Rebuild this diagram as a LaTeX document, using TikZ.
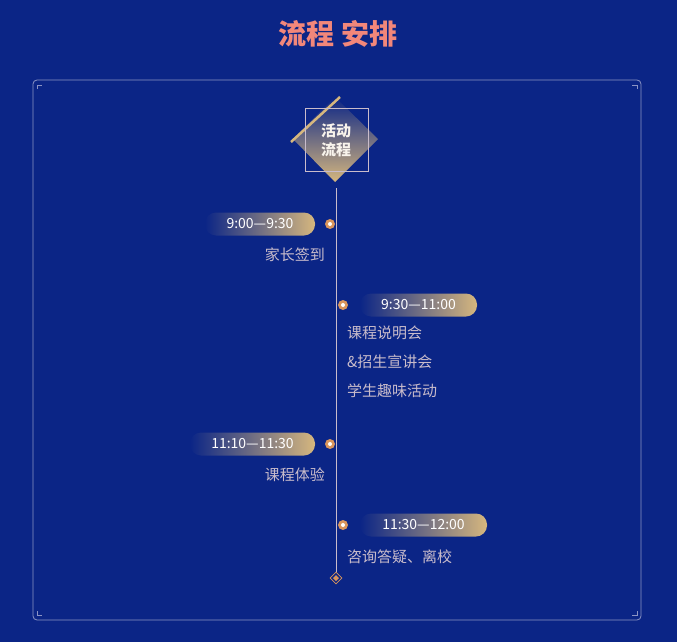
\documentclass[tikz,border=0pt]{standalone}
\usepackage{fontspec}
\setmainfont{Noto Sans CJK SC}
\usetikzlibrary{shapes.geometric}
\definecolor{bg}{HTML}{0B2586}
\definecolor{gold}{HTML}{D6B77E}
\definecolor{dotc}{HTML}{D9955C}
\definecolor{lbl}{HTML}{C9BCCB}
\definecolor{frame}{HTML}{8C94C4}
\definecolor{ttl}{HTML}{F2877A}
\tikzset{
  pill/.style={rounded corners=11pt, minimum height=23pt, inner sep=0pt, text=white, font=\fontsize{14}{14}\selectfont},
  dotn/.style={circle, fill=dotc, minimum size=10pt, inner sep=0pt},
  lab/.style={text=lbl, font=\fontsize{15}{29}\selectfont, inner sep=0pt},
}
\begin{document}
\begin{tikzpicture}[x=1pt,y=-1pt]
\fill[bg] (0,0) rectangle (677,642);
\useasboundingbox (0,0) rectangle (677,642);
\node[text=ttl, font=\bfseries\fontsize{28}{28}\selectfont] (title) at (338,34) {流程 安排};
\draw[frame, rounded corners=4pt, line width=0.8pt] (33,80) rectangle (641,620);
\draw[frame, line width=0.8pt] (37,89) -- (37,85) -- (42,85);
\draw[frame, line width=0.8pt] (637,89) -- (637,85) -- (632,85);
\draw[frame, line width=0.8pt] (37,611) -- (37,615) -- (42,615);
\draw[frame, line width=0.8pt] (637,611) -- (637,615) -- (632,615);
% header diamond
\shade[left color=bg, right color=gold, shading angle=0] (335,97) -- (378,139) -- (335,182) -- (293,139) -- cycle;
\draw[gold, line width=2.5pt] (291,142) -- (340,97);
\draw[lbl, line width=0.6pt] (305,108) rectangle (368,171);
\node[text=white!85!gold, font=\bfseries\fontsize{15}{19}\selectfont, align=center] (head) at (336,140) {活动\\流程};
\coordinate (top) at (336,188);
\node[diamond, draw=dotc, line width=0.8pt, minimum size=12pt, inner sep=0pt] (end) at (336,578) {};
\fill[dotc] (end.center) +(-3,0) -- +(0,-3) -- +(3,0) -- +(0,3) -- cycle;
\draw[lbl, line width=0.8pt] (top) -- (end.north);
% event 1
\node[dotn] (d1) at (330,224) {}; \fill[white] (d1) circle (2);
\node[pill, minimum width=110pt, left color=bg, right color=gold] (p1) at (260,224) {9:00—9:30};
\node[lab, anchor=east] (l1) at (325,255) {家长签到};
% event 2
\node[dotn] (d2) at (343,305) {}; \fill[white] (d2) circle (2);
\node[pill, minimum width=117pt, left color=bg, right color=gold] (p2) at (418.5,305) {9:30—11:00};
\node[lab, anchor=north west, align=left] (l2) at (347,326) {课程说明会\\\&招生宣讲会\\学生趣味活动};
% event 3
\node[dotn] (d3) at (330,444) {}; \fill[white] (d3) circle (2);
\node[pill, minimum width=125pt, left color=bg, right color=gold] (p3) at (252.5,444) {11:10—11:30};
\node[lab, anchor=east] (l3) at (325,475) {课程体验};
% event 4
\node[dotn] (d4) at (343,525) {}; \fill[white] (d4) circle (2);
\node[pill, minimum width=127pt, left color=bg, right color=gold] (p4) at (423.5,525) {11:30—12:00};
\node[lab, anchor=west] (l4) at (347,557) {咨询答疑、离校};
\end{tikzpicture}
\end{document}
